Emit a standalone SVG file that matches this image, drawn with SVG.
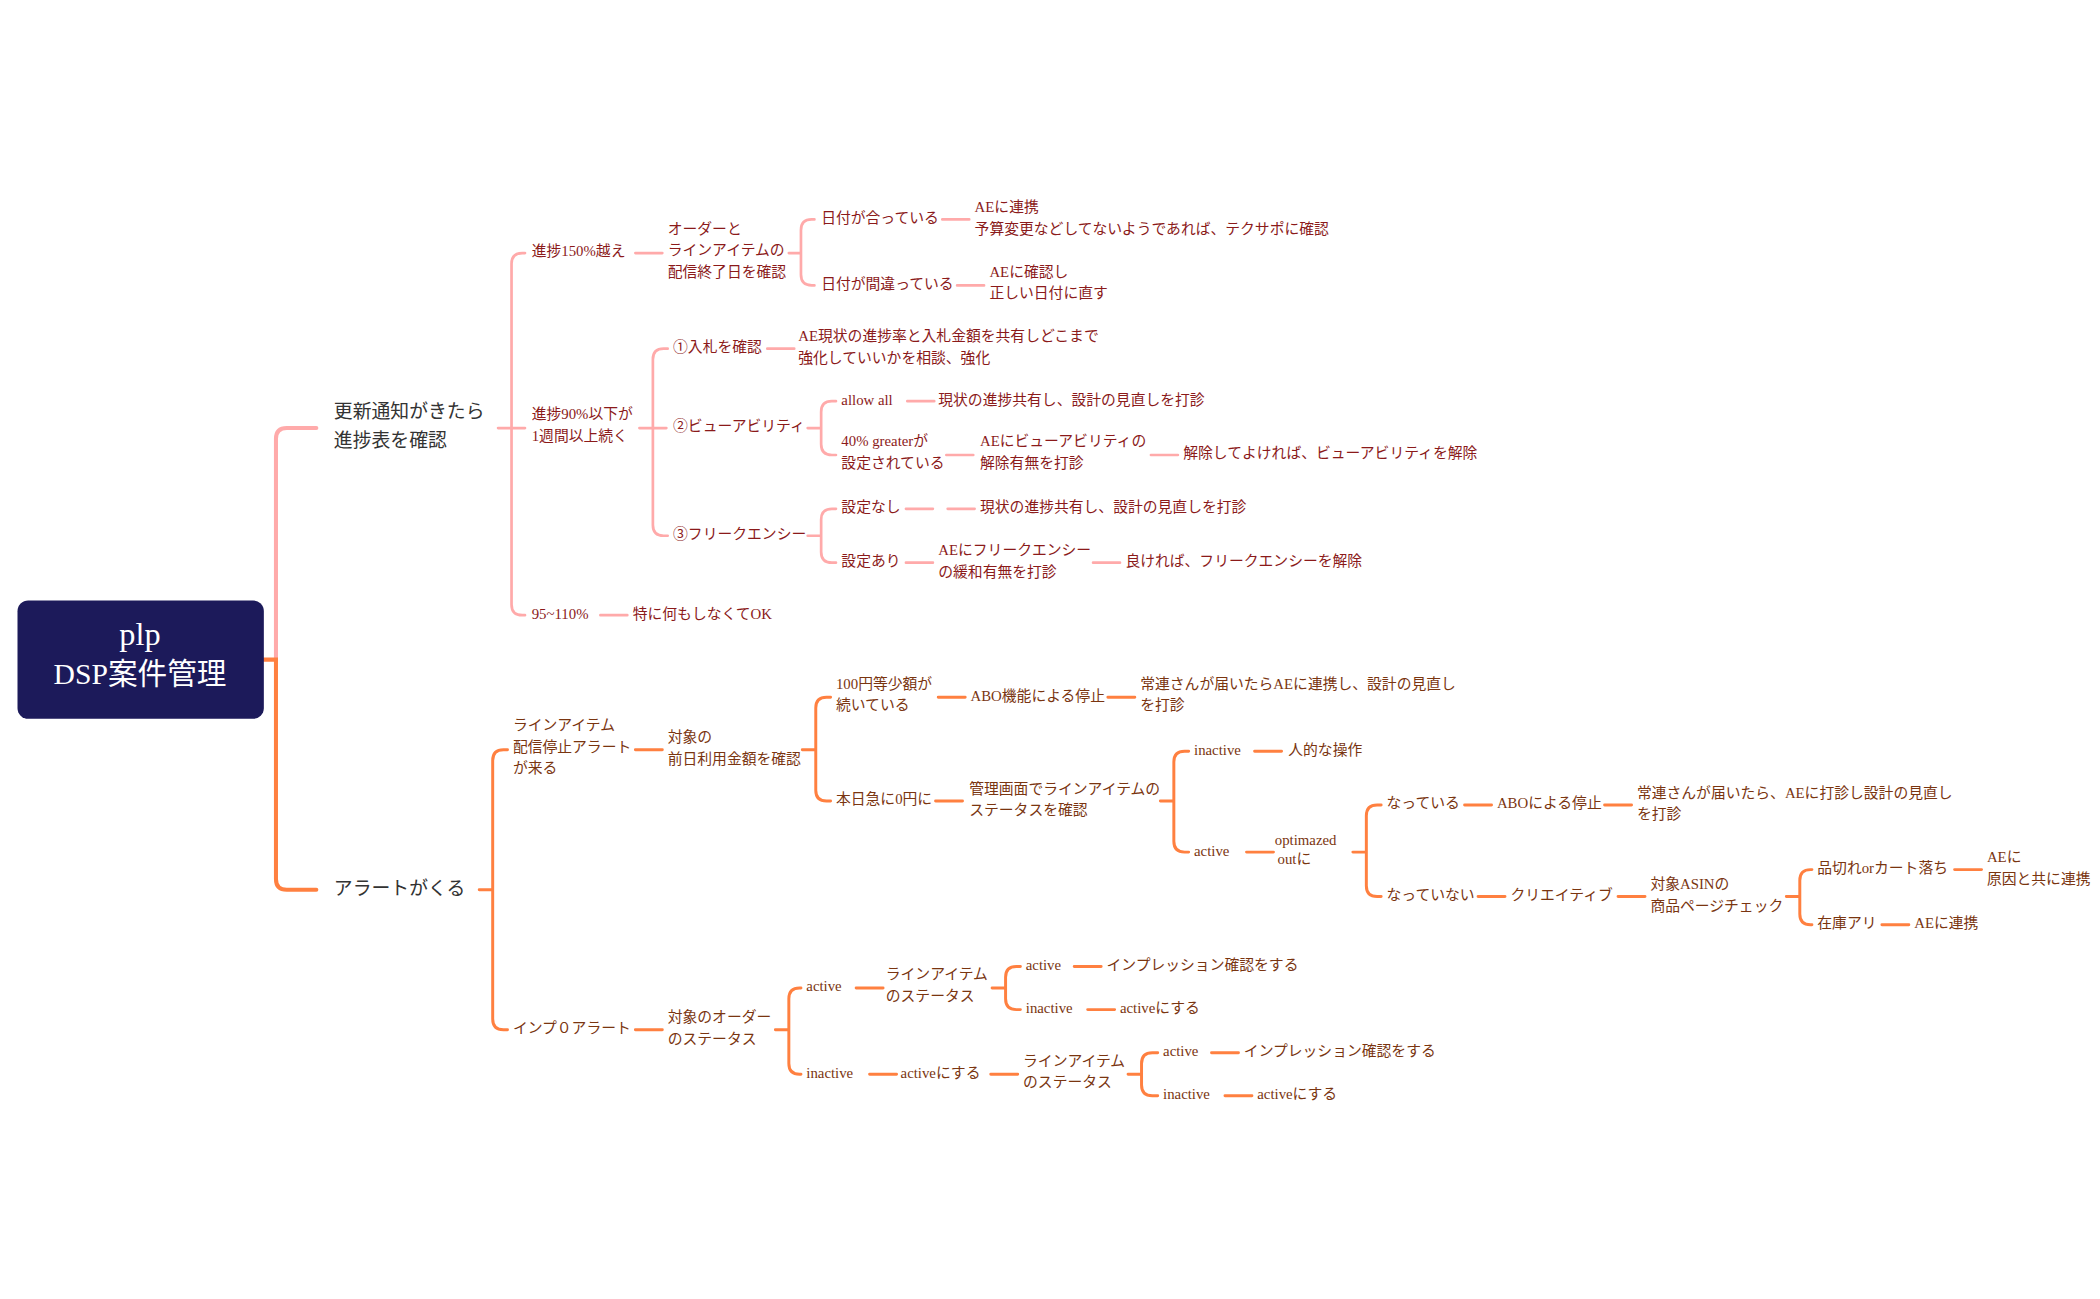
<svg xmlns="http://www.w3.org/2000/svg" width="2100" height="1299" viewBox="0 0 2100 1299">
<style>
.p{fill:none;stroke:#ffaaaa;stroke-width:2;stroke-linecap:round}
.o{fill:none;stroke:#ff8040;stroke-width:2.2;stroke-linecap:round}
.t{font-family:"Liberation Serif","Noto Sans CJK JP",serif;font-size:11px;dominant-baseline:middle}
.tp{fill:#8b1a1a}.to{fill:#7a3510}
.m{font-family:"Noto Sans CJK JP","Liberation Sans",sans-serif;font-size:14px;fill:#333;dominant-baseline:middle}
</style>
<rect width="2100" height="1299" fill="#fff"/>
<g transform="scale(1.34615)">
<g id="connectors">
<path class="p" d="M205 490 V326 Q205 318 213 318 H235" stroke-width="3" style="stroke-width:3"/>
<path class="o" d="M196 490 H205 V653 Q205 661 213 661 H235" style="stroke-width:3"/>
<path class="p" d="M370 318 H390 M390 188 H388 Q380 188 380 196 V449 Q380 457 388 457 H390"/>
<path class="p" d="M472 188 H492 M586 188 H595 M605 163 H603 Q595 163 595 171 V204 Q595 212 603 212 H605 M700 163 H720 M711 212 H731"/>
<path class="p" d="M475 318 H495 M496 259 H493 Q485 259 485 267 V390 Q485 398 493 398 H496 M570 259 H590"/>
<path class="p" d="M600 318 H610 M621 298 H618 Q610 298 610 306 V330 Q610 338 618 338 H621 M674 298 H694 M703 338 H723 M855 338 H875"/>
<path class="p" d="M600 398 H610 M621 378 H618 Q610 378 610 386 V410 Q610 418 618 418 H621 M673 378 H693 M704 378 H724 M673 418 H693 M812 418 H832 M446 457 H466"/>
<path class="o" d="M356 661 H366 M377 557 H374 Q366 557 366 565 V757 Q366 765 374 765 H377"/>
<path class="o" d="M472 557 H492 M596 557 H606 M617 518 H614 Q606 518 606 526 V587 Q606 595 614 595 H617 M697 518 H717 M823 518 H843 M695 595 H715"/>
<path class="o" d="M862 595 H872 M883 558 H880 Q872 558 872 566 V625 Q872 633 880 633 H883 M932 558 H952 M926 633 H946"/>
<path class="o" d="M1005 633 H1015 M1026 598 H1023 Q1015 598 1015 606 V658 Q1015 666 1023 666 H1026 M1088 598 H1108 M1192 598 H1212 M1098 666 H1118 M1202 666 H1222"/>
<path class="o" d="M1327 666 H1337 M1346 646 H1345 Q1337 646 1337 654 V679 Q1337 687 1345 687 H1346 M1452 646 H1472 M1398 687 H1418"/>
<path class="o" d="M472 765 H492 M576 765 H586 M595 734 H594 Q586 734 586 742 V790 Q586 798 594 798 H595 M636 734 H656 M646 798 H666 M736 798 H756"/>
<path class="o" d="M737 734 H747 M758 718 H755 Q747 718 747 726 V742 Q747 750 755 750 H758 M798 718 H818 M808 750 H828"/>
<path class="o" d="M838 798 H848 M860 782 H856 Q848 782 848 790 V806 Q848 814 856 814 H860 M900 782 H920 M910 814 H930"/>
</g>
<g id="root"><rect x="13" y="446" width="183" height="88" rx="8" fill="#1c1a5a"/>
<text x="104" y="474" text-anchor="middle" style="font-family:'Liberation Serif','Noto Sans CJK JP',serif;font-size:24px;fill:#fff;dominant-baseline:middle">plp</text>
<text x="104" y="503" text-anchor="middle" style="font-family:'Liberation Serif','Noto Sans CJK JP',serif;font-size:22px;fill:#fff;dominant-baseline:middle">DSP案件管理</text></g>
<g id="b1"><text class="m" x="248" y="307">更新通知がきたら</text><text class="m" x="248" y="328">進捗表を確認</text></g>
<g id="b2"><text class="m" x="248" y="661">アラートがくる</text></g>
<g class="t tp" id="pink">
<text x="395" y="188">進捗150%越え</text>
<text x="496" y="171">オーダーと</text><text x="496" y="187">ラインアイテムの</text><text x="496" y="203">配信終了日を確認</text>
<text x="610" y="163">日付が合っている</text>
<text x="724" y="155">AEに連携</text><text x="724" y="171">予算変更などしてないようであれば、テクサポに確認</text>
<text x="610" y="212">日付が間違っている</text>
<text x="735" y="203">AEに確認し</text><text x="735" y="219">正しい日付に直す</text>
<text x="395" y="309">進捗90%以下が</text><text x="395" y="325">1週間以上続く</text>
<text x="500" y="259">①入札を確認</text>
<text x="593" y="251">AE現状の進捗率と入札金額を共有しどこまで</text><text x="593" y="267">強化していいかを相談、強化</text>
<text x="500" y="318">②ビューアビリティ</text>
<text x="625" y="298">allow all</text><text x="697" y="298">現状の進捗共有し、設計の見直しを打診</text>
<text x="625" y="329">40% greaterが</text><text x="625" y="345">設定されている</text>
<text x="728" y="329">AEにビューアビリティの</text><text x="728" y="345">解除有無を打診</text>
<text x="879" y="338">解除してよければ、ビューアビリティを解除</text>
<text x="500" y="398">③フリークエンシー</text>
<text x="625" y="378">設定なし</text><text x="728" y="378">現状の進捗共有し、設計の見直しを打診</text>
<text x="625" y="418">設定あり</text>
<text x="697" y="410">AEにフリークエンシー</text><text x="697" y="426">の緩和有無を打診</text>
<text x="836" y="418">良ければ、フリークエンシーを解除</text>
<text x="395" y="457">95~110%</text><text x="470" y="457">特に何もしなくてOK</text>
</g>
<g class="t to" id="orange">
<text x="381" y="540">ラインアイテム</text><text x="381" y="556">配信停止アラート</text><text x="381" y="572">が来る</text>
<text x="496" y="549">対象の</text><text x="496" y="565">前日利用金額を確認</text>
<text x="621" y="509">100円等少額が</text><text x="621" y="525">続いている</text>
<text x="721" y="518">ABO機能による停止</text>
<text x="847" y="509">常連さんが届いたらAEに連携し、設計の見直し</text><text x="847" y="525">を打診</text>
<text x="621" y="595">本日急に0円に</text>
<text x="720" y="587">管理画面でラインアイテムの</text><text x="720" y="603">ステータスを確認</text>
<text x="887" y="558">inactive</text><text x="957" y="558">人的な操作</text>
<text x="887" y="633">active</text>
<text x="947" y="625">optimazed</text><text x="949" y="639">outに</text>
<text x="1030" y="598">なっている</text><text x="1112" y="598">ABOによる停止</text>
<text x="1216" y="590">常連さんが届いたら、AEに打診し設計の見直し</text><text x="1216" y="606">を打診</text>
<text x="1030" y="666">なっていない</text><text x="1122" y="666">クリエイティブ</text>
<text x="1226" y="658">対象ASINの</text><text x="1226" y="674">商品ページチェック</text>
<text x="1350" y="646">品切れorカート落ち</text>
<text x="1476" y="638">AEに</text><text x="1476" y="654">原因と共に連携</text>
<text x="1350" y="687">在庫アリ</text><text x="1422" y="687">AEに連携</text>
<text x="381" y="765">インプ０アラート</text>
<text x="496" y="757">対象のオーダー</text><text x="496" y="773">のステータス</text>
<text x="599" y="734">active</text>
<text x="658" y="725">ラインアイテム</text><text x="658" y="741">のステータス</text>
<text x="762" y="718">active</text><text x="822" y="718">インプレッション確認をする</text>
<text x="762" y="750">inactive</text><text x="832" y="750">activeにする</text>
<text x="599" y="798">inactive</text><text x="669" y="798">activeにする</text>
<text x="760" y="789">ラインアイテム</text><text x="760" y="805">のステータス</text>
<text x="864" y="782">active</text><text x="924" y="782">インプレッション確認をする</text>
<text x="864" y="814">inactive</text><text x="934" y="814">activeにする</text>
</g>
</g>
</svg>
